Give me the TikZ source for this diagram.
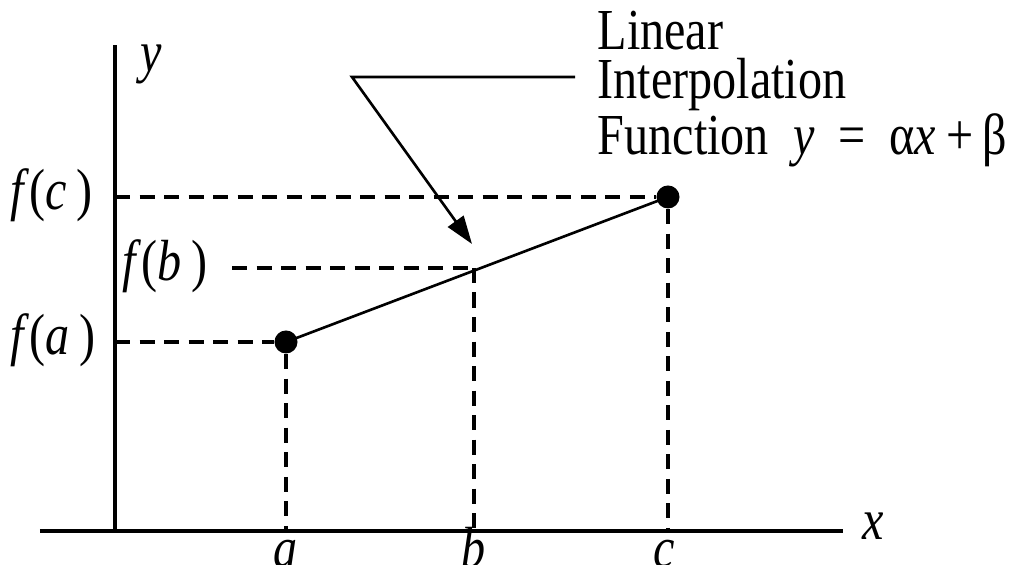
\documentclass[tikz,border=0pt]{standalone}
\usepackage{fontspec}
\setmainfont{Liberation Serif}[FakeStretch=0.83]
\usetikzlibrary{arrows.meta}

\begin{document}
\begin{tikzpicture}[x=0.01cm,y=-0.01cm,>={Triangle[length=0.28cm,width=0.19cm]},
  axis/.style={line width=1.05pt},
  guide/.style={line width=0.9pt,dash pattern=on 0.15cm off 0.095cm},
  dot/.style={circle,fill,inner sep=0pt,minimum size=0.23cm},
  lbl/.style={font=\fontsize{16.5}{13.9}\selectfont,inner sep=0pt}]
\useasboundingbox (0,0) rectangle (1017,565);
% axes
\coordinate (O) at (115,531);
\coordinate (xend) at (843,531);
\coordinate (xstart) at (40,531);
\coordinate (ytop) at (115,45);
\draw[axis] (xstart)--(xend);
\draw[axis] (O)--(ytop);
\node[lbl,anchor=base west] (xlab) at (862,540) {\textit{x}};
\node[lbl,anchor=base west] (ylab) at (140,72) {\textit{y}};
% data points and the interpolating line
\node[dot] (A) at (286,342) {};
\coordinate (B) at (474,268);
\node[dot] (C) at (668,197) {};
\draw[line width=0.75pt] (A.center)--(C.center);
% projections onto the axes
\coordinate (Ax) at (286,531);
\coordinate (Bx) at (474,531);
\coordinate (Cx) at (668,531);
\coordinate (Ay) at (115,342);
\coordinate (By) at (232,268);
\coordinate (Cy) at (115,197);
\draw[guide] (Ay)--(A);
\draw[guide] (By)--(B);
\draw[guide] (Cy)--(C);
\draw[guide] (A)--(Ax);
\draw[guide] (B)--(Bx);
\draw[guide] (C)--(Cx);
\node[lbl,anchor=base] (alab) at (286,568) {\textit{a}};
\node[lbl,anchor=base] (blab) at (474,568) {\textit{b}};
\node[lbl,anchor=base] (clab) at (664,568) {\textit{c}};
\node[lbl,anchor=base west] (falab) at (10,355) {\textit{f}(\textit{a}\,)};
\node[lbl,anchor=base west] (fblab) at (122,281) {\textit{f}(\textit{b}\,)};
\node[lbl,anchor=base west] (fclab) at (10,210) {\textit{f}(\textit{c}\,)};
% annotation
\node[lbl,align=left,anchor=base west] (note) at (597,155)
  {Linear\\Interpolation\\Function\ \ \textit{y}\ \ =\ \ α\textit{x}\,+\,β};
\coordinate (k1) at (575,77);
\coordinate (k2) at (352,77);
\coordinate (tip) at (472,244);
\draw[line width=0.75pt,->] (k1)--(k2)--(tip);
\end{tikzpicture}
\end{document}
